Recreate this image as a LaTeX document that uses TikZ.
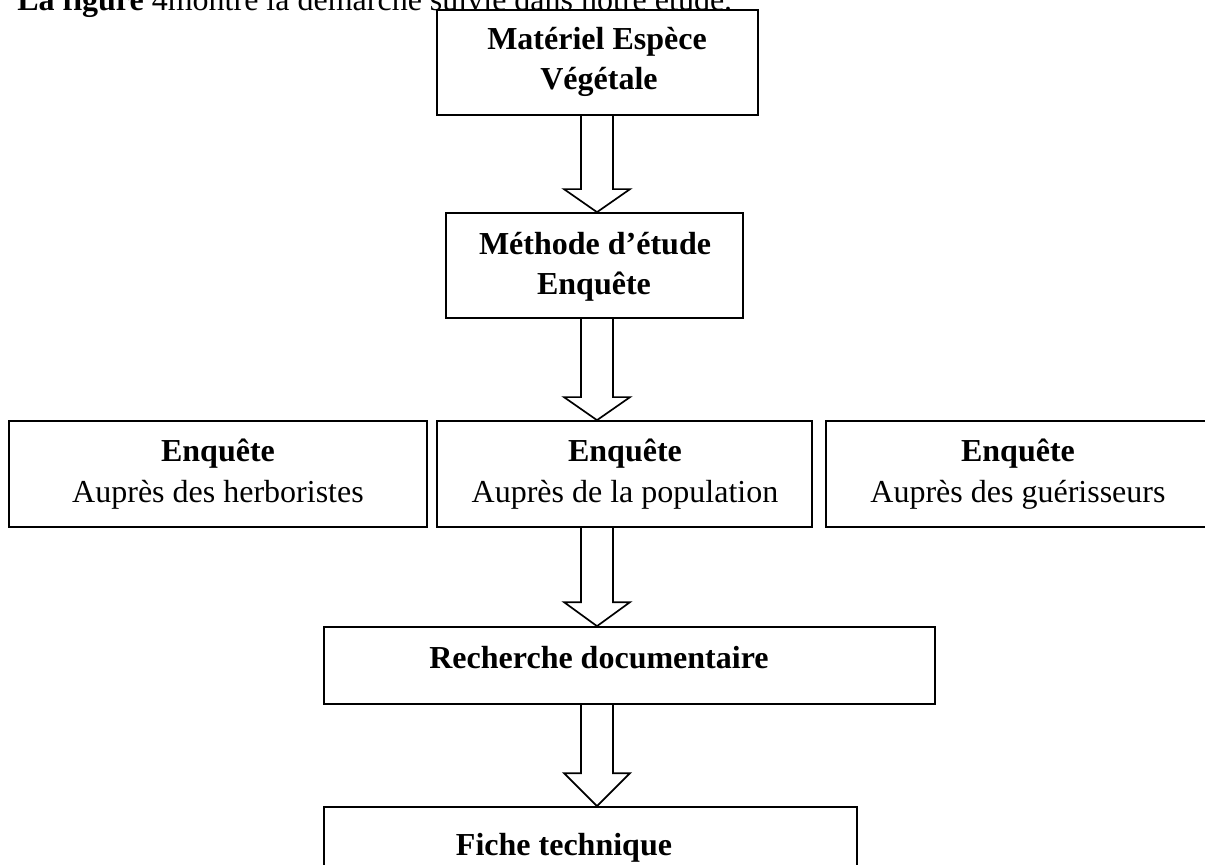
\documentclass[tikz,border=0pt]{standalone}
\usepackage{fontspec}
\setmainfont{Liberation Serif}
\usetikzlibrary{calc}
\usetikzlibrary{fit}

\begin{document}
\begin{tikzpicture}[x=0.025cm, y=-0.025cm,
    boite/.style={draw, line width=1.2pt, inner sep=0pt},
    texte/.style={font=\fontsize{22.76pt}{28pt}\selectfont, inner sep=0pt, anchor=base},
    fleche/.style={draw, line width=1.2pt, line join=miter}]
    \useasboundingbox (0,0) rectangle (1205,865);
    \clip (0,0) rectangle (1205,865);

    % --- Phrase d'introduction (coupée en haut) ---
    \node[texte, anchor=base west] (intro) at (17,11) {\textbf{La figure} 4montre la démarche suivie dans notre étude.};

    % --- Cadres ---
    \node[boite, fit={(437,10) (758,115)}] (mat) {};
    \node[boite, fit={(446,213) (743,318)}] (meth) {};
    \node[boite, fit={(9,421) (427,527)}] (herbo) {};
    \node[boite, fit={(437,421) (812,527)}] (popu) {};
    \node[boite, fit={(826,421) (1210,527)}] (gueri) {};
    \node[boite, fit={(324,627) (935,704)}] (rech) {};
    \node[boite, fit={(324,807) (857,885)}] (fiche) {};

    % --- Textes des cadres ---
    \node[texte] (matA) at (597,50) {\textbf{Matériel Espèce}};
    \node[texte] (matB) at (599,90) {\textbf{Végétale}};
    \node[texte] (methA) at (595,255) {\textbf{Méthode d’étude}};
    \node[texte] (methB) at (594,295) {\textbf{Enquête}};
    \node[texte] (herboA) at (218,462) {\textbf{Enquête}};
    \node[texte] (herboB) at (218,503) {Auprès des herboristes};
    \node[texte] (popuA) at (625,462) {\textbf{Enquête}};
    \node[texte] (popuB) at (625,503) {Auprès de la population};
    \node[texte] (gueriA) at (1018,462) {\textbf{Enquête}};
    \node[texte] (gueriB) at (1018,503) {Auprès des guérisseurs};
    \node[texte] (rechA) at (599,668) {\textbf{Recherche documentaire}};
    \node[texte] (ficheA) at (564,855) {\textbf{Fiche technique}};

    % --- Flèches creuses (axe commun) ---
    \coordinate (axe) at (597,0);
    \foreach \a/\b/\h in {mat/meth/23, meth/popu/23, popu/rech/24, rech/fiche/33}
        \draw[fleche] ($(\a.south -| axe)+(-16,0)$) -- ($(\b.north -| axe)+(-16,-\h)$)
            -- ($(\b.north -| axe)+(-33,-\h)$) -- (\b.north -| axe)
            -- ($(\b.north -| axe)+(33,-\h)$) -- ($(\b.north -| axe)+(16,-\h)$)
            -- ($(\a.south -| axe)+(16,0)$);

\end{tikzpicture}
\end{document}
